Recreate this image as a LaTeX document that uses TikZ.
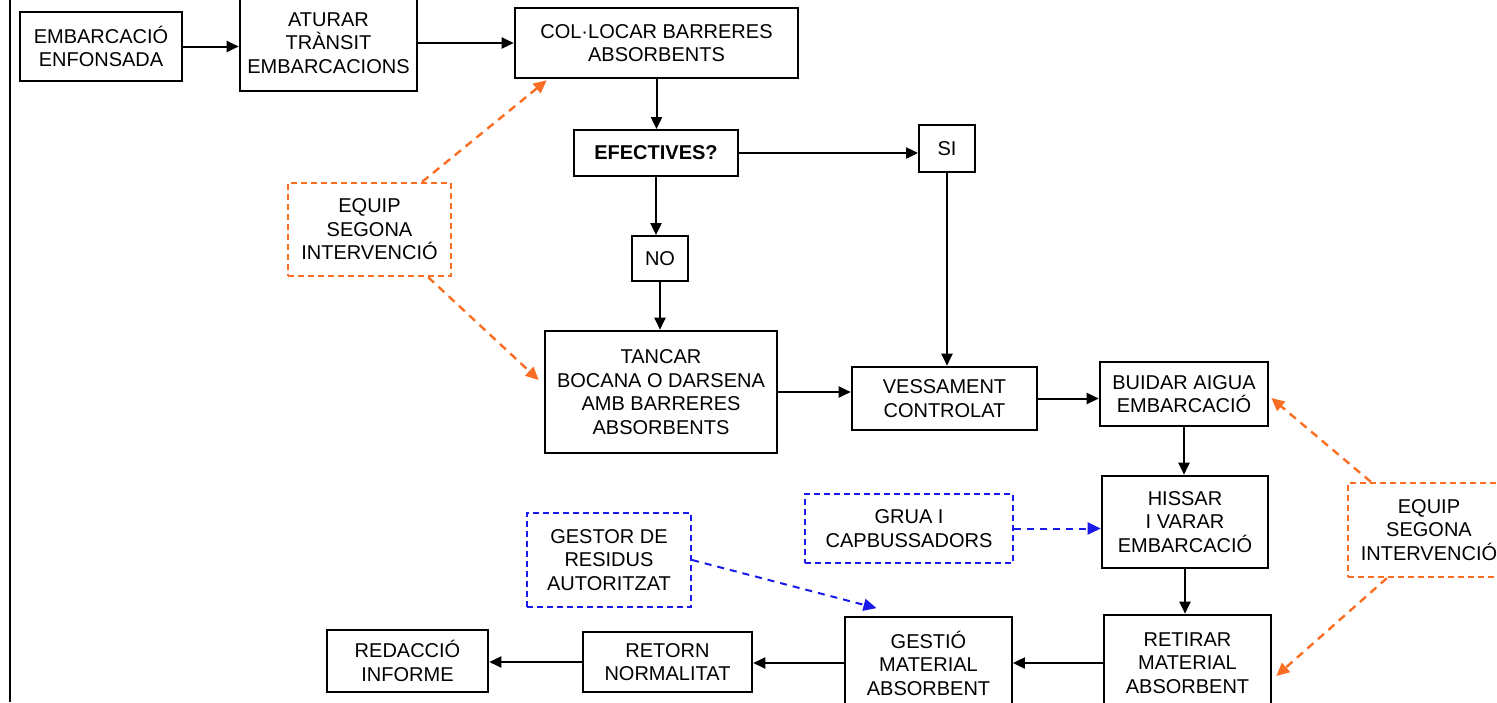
\documentclass[tikz,border=0pt]{standalone}
\usepackage{fontspec}
\setmainfont{Liberation Sans}
\usetikzlibrary{arrows.meta}

\definecolor{equipcol}{RGB}{250,110,35}
\definecolor{extcol}{RGB}{25,25,235}

\begin{document}
\begin{tikzpicture}[x=1pt,y=-1pt,
  txt/.style={align=center,inner sep=0pt,font=\fontsize{20}{23.5}\selectfont},
  box/.style={txt,draw,line width=2.6pt},
  thinbox/.style={txt,draw,line width=1.8pt},
  sz/.style 2 args={minimum width=#1,minimum height=#2},
  equip/.style={txt,draw=equipcol,line width=2.4pt,dash pattern=on 6pt off 4pt},
  ext/.style={txt,draw=extcol,line width=2.2pt,dash pattern=on 6pt off 4pt},
  arr/.style={line width=2pt,-{Triangle[length=12pt,width=11pt]}},
  arrequip/.style={equipcol,line width=2.4pt,dash pattern=on 8pt off 6pt,-{Triangle[length=13pt,width=12pt]}},
  arrext/.style={extcol,line width=2pt,dash pattern=on 7pt off 6pt,-{Triangle[length=13pt,width=12pt]}}]
  \useasboundingbox (0,0) rectangle (1497,702);
  \clip (0,0) rectangle (1497,702);

  % margin line
  \draw[line width=1.8pt] (10,0) -- (10,702);

  % first row
  \node[box,sz={162pt}{69pt}] (emb) at (101,46.5) {EMBARCACIÓ\\ENFONSADA};
  \node[box,sz={177pt}{96pt}] (atu) at (328.5,43) {ATURAR\\TRÀNSIT\\EMBARCACIONS};
  \node[box,sz={283pt}{70pt}] (col) at (656.5,43) {COL·LOCAR BARRERES\\ABSORBENTS};

  % question
  \node[thinbox,sz={164pt}{46pt},font=\fontsize{20}{23.5}\selectfont\bfseries] (efe) at (656,153) {EFECTIVES?};
  \node[thinbox,sz={56pt}{47pt}] (si) at (947,148.5) {SI};
  \node[thinbox,sz={56pt}{45pt}] (no) at (660,258.5) {NO};

  % middle row
  \node[box,sz={232pt}{122pt}] (tan) at (661,392) {TANCAR\\BOCANA O DARSENA\\AMB BARRERES\\ABSORBENTS};
  \node[box,sz={185pt}{63pt}] (ves) at (944.5,398.5) {VESSAMENT\\CONTROLAT};
  \node[box,sz={168pt}{64pt}] (bui) at (1184,394) {BUIDAR AIGUA\\EMBARCACIÓ};
  \node[box,sz={166pt}{92pt}] (his) at (1185,522) {HISSAR\\I VARAR\\EMBARCACIÓ};

  % bottom row
  \node[box,sz={167pt}{96pt}] (ret) at (1187.5,663) {RETIRAR\\MATERIAL\\ABSORBENT};
  \node[thinbox,sz={167pt}{92pt}] (ges) at (928.5,663) {GESTIÓ\\MATERIAL\\ABSORBENT};
  \node[box,sz={169pt}{60pt}] (rtn) at (667.5,662) {RETORN\\NORMALITAT};
  \node[box,sz={161pt}{62pt}] (red) at (407.5,661) {REDACCIÓ\\INFORME};

  % support teams
  \node[equip,sz={163pt}{93pt}] (eq1) at (369.5,229.5) {EQUIP\\SEGONA\\INTERVENCIÓ};
  \node[equip,sz={162pt}{94pt}] (eq2) at (1429,530) {EQUIP\\SEGONA\\INTERVENCIÓ};
  \node[ext,sz={208pt}{69pt}] (gru) at (909,528.5) {GRUA I\\CAPBUSSADORS};
  \node[ext,sz={164pt}{94pt}] (ger) at (609,560) {GESTOR DE\\RESIDUS\\AUTORITZAT};

  % main flow
  \draw[arr] (emb.east) -- (emb.east -| atu.west);
  \draw[arr] (atu.east) -- (col.west);
  \draw[arr] (col.south) -- (col.south |- efe.north);
  \draw[arr] (efe.east) -- (efe.east -| si.west);
  \draw[arr] (efe.south) -- (efe.south |- no.north);
  \draw[arr] (no.south) -- (no.south |- tan.north);
  \draw[arr] (si.south) -- (si.south |- ves.north);
  \draw[arr] (tan.east) -- (tan.east -| ves.west);
  \draw[arr] (ves.east) -- (ves.east -| bui.west);
  \draw[arr] (bui.south) -- (bui.south |- his.north);
  \draw[arr] (his.south) -- (his.south |- ret.north);
  \draw[arr] (ret.west) -- (ret.west -| ges.east);
  \draw[arr] (ges.west) -- (ges.west -| rtn.east);
  \draw[arr] (rtn.west) -- (rtn.west -| red.east);

  % dashed helpers
  \draw[arrequip] ([xshift=-30pt]eq1.north east) -- ([xshift=33pt,yshift=-1pt]col.south west);
  \draw[arrequip] ([xshift=-24pt]eq1.south east) -- ([xshift=-5pt,yshift=12pt]tan.west);
  \draw[arrequip] ([xshift=24pt]eq2.north west) -- ([xshift=2pt,yshift=-4pt]bui.east);
  \draw[arrequip] ([xshift=40pt]eq2.south west) -- ([xshift=4pt,yshift=-13pt]ret.east);
  \draw[arrext] (gru.east) -- (gru.east -| his.west);
  \draw[arrext] (ger.east) -- ([xshift=-52pt,yshift=8pt]ges.north);
\end{tikzpicture}
\end{document}
